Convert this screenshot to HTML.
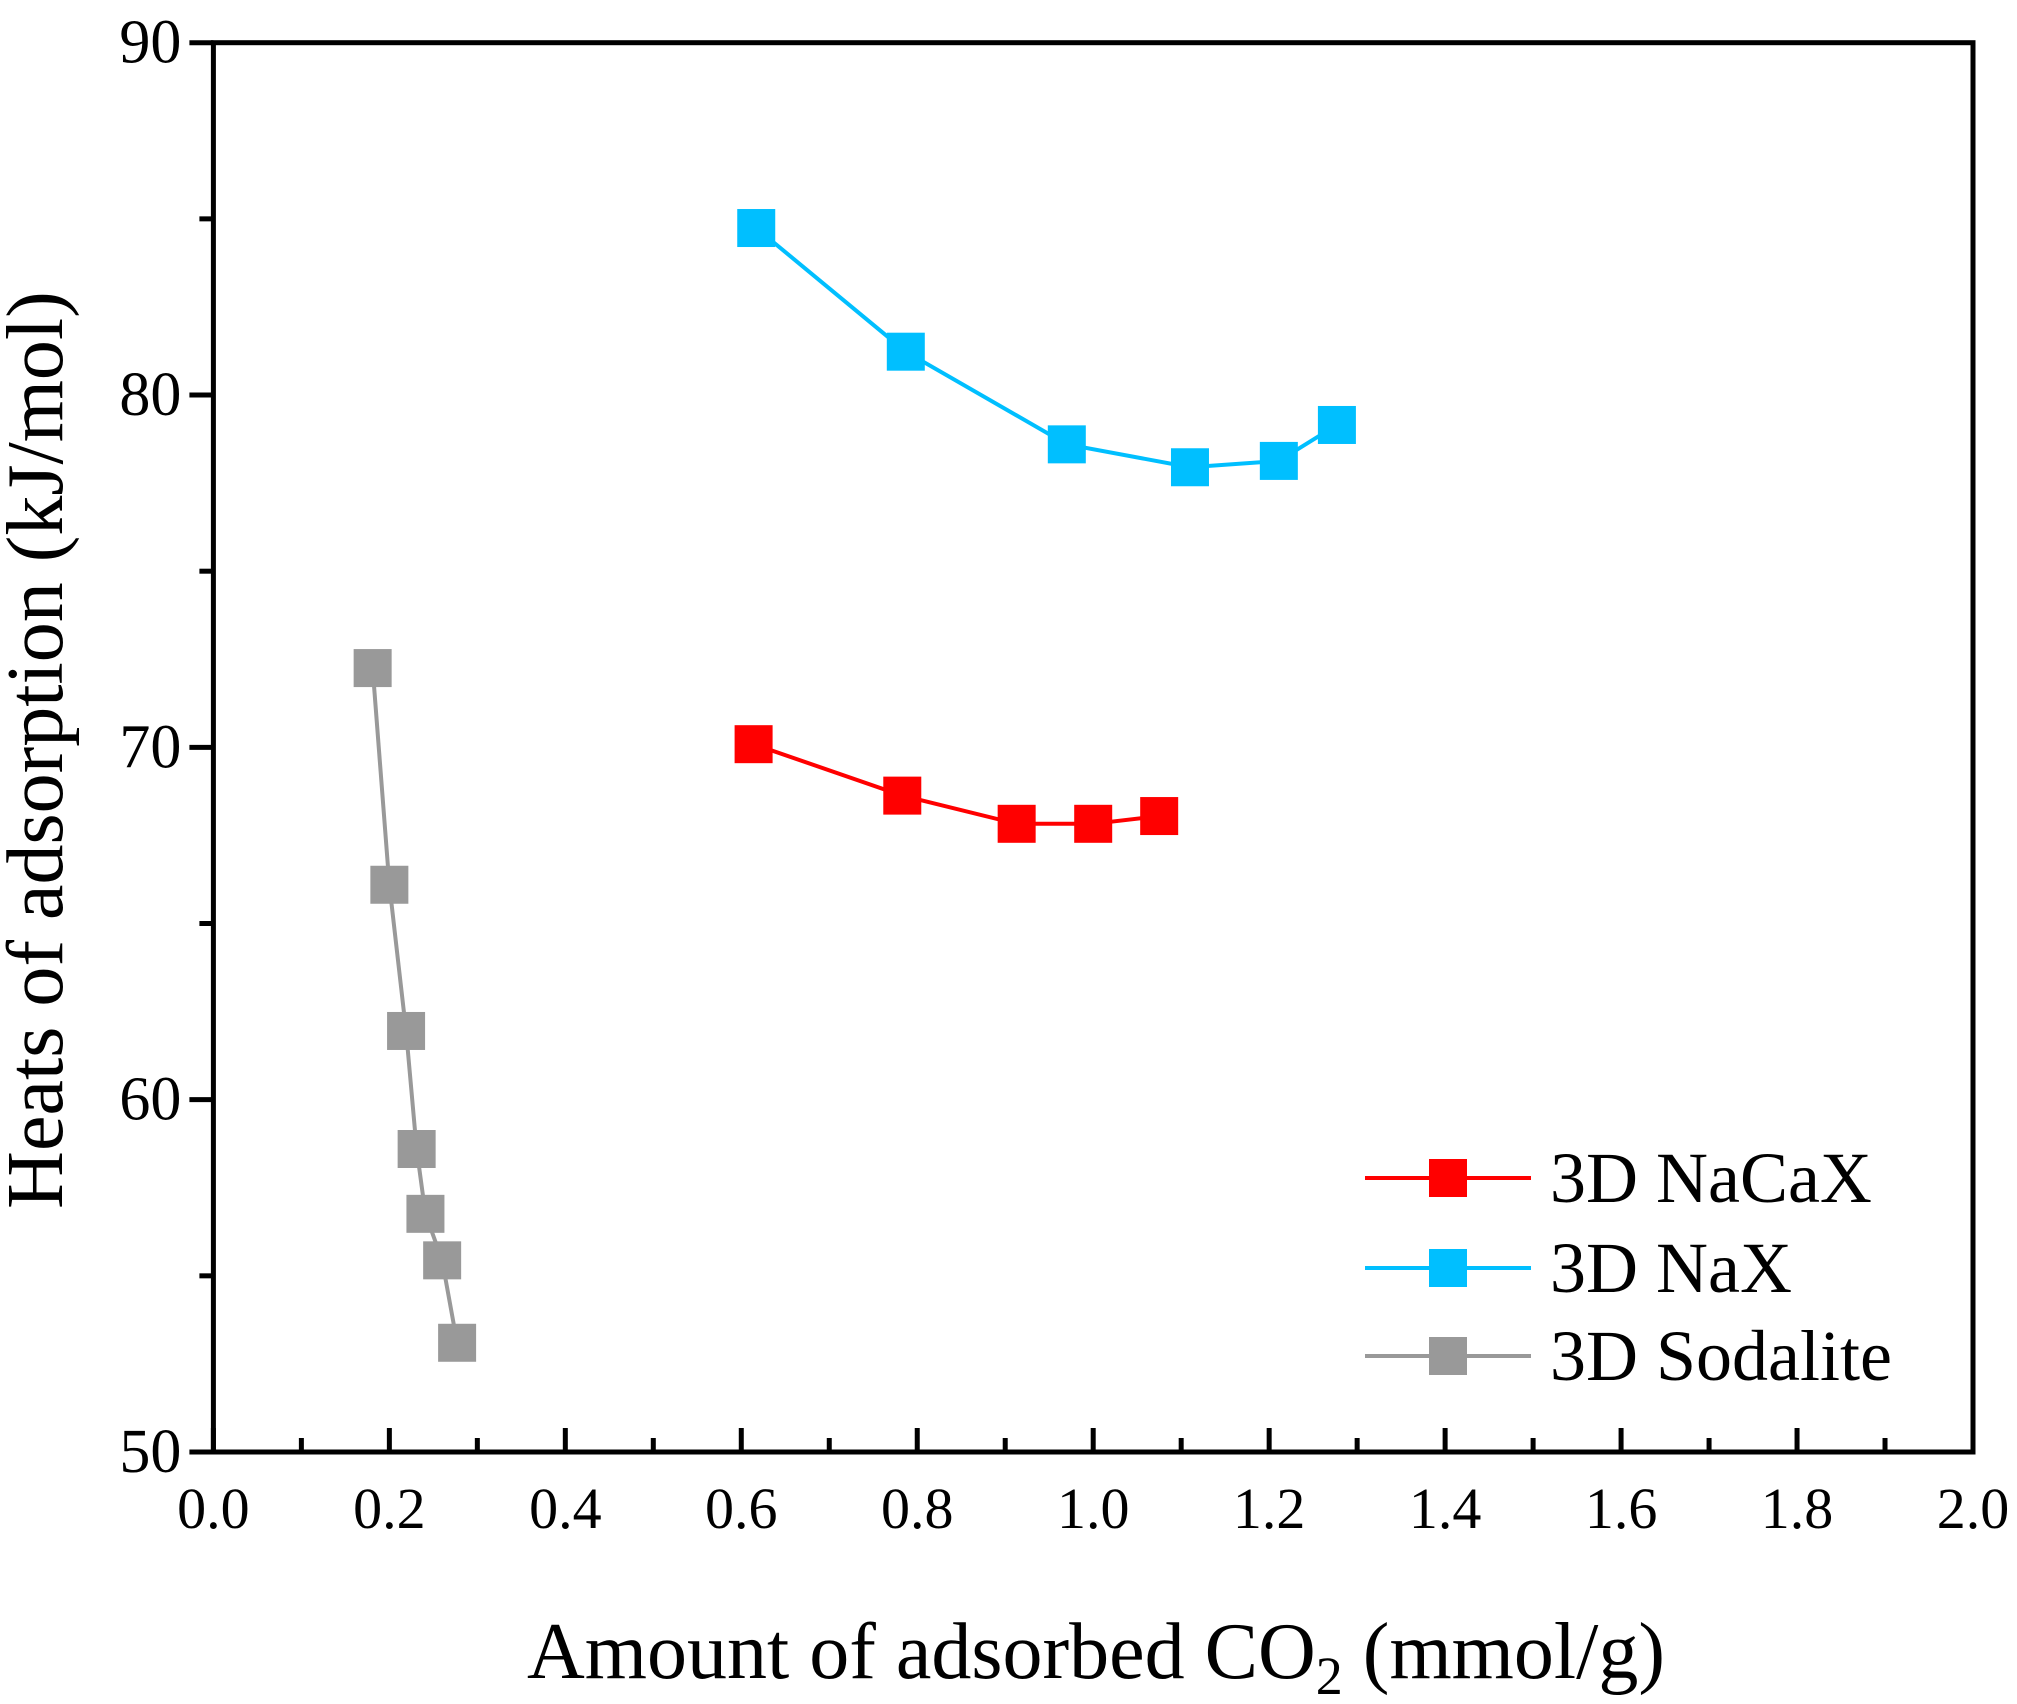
<!DOCTYPE html>
<html><head><meta charset="utf-8"><style>
html,body{margin:0;padding:0;background:#fff;}
svg{display:block;font-family:"Liberation Serif",serif;}
</style></head><body>
<svg id="chart" width="2017" height="1704" viewBox="0 0 2017 1704">
<g id="axes"></g>
<g id="series"></g>
<g id="legend"></g>
<text x="1096" y="1678" font-size="80" text-anchor="middle">Amount of adsorbed CO<tspan font-size="54" dy="16">2</tspan><tspan dy="-16"> (mmol/g)</tspan></text>
<text transform="translate(62,750) rotate(-90)" font-size="80" text-anchor="middle">Heats of adsorption (kJ/mol)</text>
</svg>
<script>
const xTicks = [0.0,0.2,0.4,0.6,0.8,1.0,1.2,1.4,1.6,1.8,2.0];
const yTicks = [50,60,70,80,90];
const seriesNames = ["3D NaCaX","3D NaX","3D Sodalite"];
const seriesColors = ["#ff0000","#00bfff","#999999"];
const nacaxX = [0.614,0.783,0.913,1.0,1.075];
const nacaxY = [70.09,68.63,67.83,67.83,68.05];
const naxX = [0.617,0.787,0.970,1.110,1.211,1.277];
const naxY = [84.74,81.23,78.6,77.95,78.13,79.15];
const sodX = [0.181,0.200,0.219,0.231,0.241,0.260,0.277];
const sodY = [72.25,66.1,61.95,58.6,56.76,55.44,53.1];

const X0=213.4,X1=1973,Y0=1452,Y1=42.7;
const sx=v=>X0+(v-0)/(2-0)*(X1-X0);
const sy=v=>Y0-(v-50)/(90-50)*(Y0-Y1);
const NS="http://www.w3.org/2000/svg";
function mk(tag,attrs,parent){const e=document.createElementNS(NS,tag);for(const k in attrs)e.setAttribute(k,attrs[k]);parent.appendChild(e);return e;}
const axes=document.getElementById('axes');
const frame=mk('rect',{x:X0,y:Y1,width:X1-X0,height:Y0-Y1,fill:'none',stroke:'#000','stroke-width':5},axes);


for(let i=0;i<xTicks.length;i++){
  const x=sx(xTicks[i]);
  const t=mk('line',{x1:x,x2:x,y1:Y0,y2:Y0-24,stroke:'#000','stroke-width':5},axes);
  
  
  const l=mk('text',{x:x,y:Y0+76,'font-size':58,'text-anchor':'middle'},axes);
  l.textContent=xTicks[i].toFixed(1);
  
  
  if(i<xTicks.length-1){
    const xm=sx((xTicks[i]+xTicks[i+1])/2);
    const m=mk('line',{x1:xm,x2:xm,y1:Y0,y2:Y0-14,stroke:'#000','stroke-width':5},axes);
    
    
  }
}
for(let i=0;i<yTicks.length;i++){
  const y=sy(yTicks[i]);
  const t=mk('line',{x1:X0,x2:X0-24,y1:y,y2:y,stroke:'#000','stroke-width':5},axes);
  
  
  const l=mk('text',{x:X0-32,y:y+20,'font-size':62,'text-anchor':'end'},axes);
  l.textContent=yTicks[i];
  
  
  if(i<yTicks.length-1){
    const ym=sy((yTicks[i]+yTicks[i+1])/2);
    const m=mk('line',{x1:X0,x2:X0-14,y1:ym,y2:ym,stroke:'#000','stroke-width':5},axes);
    
    
  }
}
const ser=document.getElementById('series');
const allX=[nacaxX,naxX,sodX], allY=[nacaxY,naxY,sodY];
const MS=38;
for(let s=0;s<3;s++){
  const g=mk('g',{},ser);
  
  
  const pts=allX[s].map((v,i)=>sx(v)+','+sy(allY[s][i])).join(' ');
  const pl=mk('polyline',{points:pts,fill:'none',stroke:seriesColors[s],'stroke-width':4},g);
  
  
  for(let i=0;i<allX[s].length;i++){
    const r=mk('rect',{x:sx(allX[s][i])-MS/2,y:sy(allY[s][i])-MS/2,width:MS,height:MS,fill:seriesColors[s]},g);
    
    
  }
}
const leg=document.getElementById('legend');
const legY=[1178,1268,1356];
for(let s=0;s<3;s++){
  const g=mk('g',{},leg);
  
  
  const ln=mk('line',{x1:1365,x2:1531,y1:legY[s],y2:legY[s],stroke:seriesColors[s],'stroke-width':4},g);
  
  
  const r=mk('rect',{x:1448-MS/2,y:legY[s]-MS/2,width:MS,height:MS,fill:seriesColors[s]},g);
  
  
  const t=mk('text',{x:1550,y:legY[s]+24,'font-size':72},g);
  t.textContent=seriesNames[s];
  
  
}
</script>
</body></html>
